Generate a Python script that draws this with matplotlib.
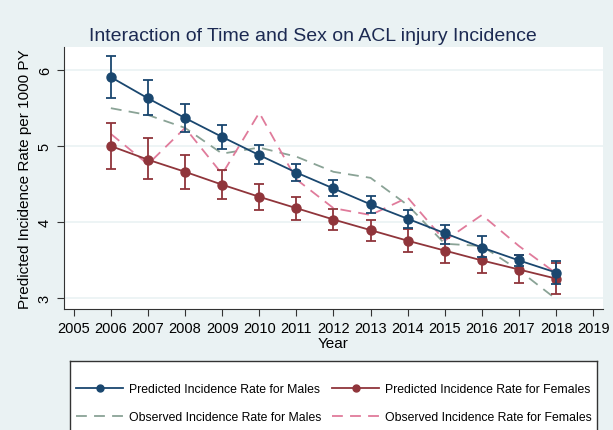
# Interaccion tiempo x sexo en la incidencia de lesiones de LCA
import numpy as np
import matplotlib.pyplot as plt
from matplotlib.lines import Line2D

plt.rcParams['font.family'] = ['Liberation Sans', 'DejaVu Sans']

years = [2006, 2007, 2008, 2009, 2010, 2011, 2012, 2013, 2014, 2015, 2016, 2017, 2018]

# Tasas predichas (con intervalo) y observadas
pred_m = [5.91, 5.63, 5.37, 5.12, 4.88, 4.65, 4.44, 4.23, 4.04, 3.85, 3.66, 3.49, 3.33]
pred_m_hi = [6.19, 5.87, 5.56, 5.28, 5.01, 4.76, 4.55, 4.34, 4.15, 3.96, 3.81, 3.56, 3.48]
pred_m_lo = [5.64, 5.41, 5.19, 4.96, 4.76, 4.54, 4.34, 4.12, 3.92, 3.71, 3.53, 3.42, 3.18]

pred_f = [5.00, 4.82, 4.66, 4.49, 4.33, 4.18, 4.03, 3.89, 3.75, 3.62, 3.49, 3.37, 3.25]
pred_f_hi = [5.31, 5.10, 4.88, 4.68, 4.50, 4.33, 4.17, 4.02, 3.90, 3.78, 3.65, 3.56, 3.46]
pred_f_lo = [4.70, 4.57, 4.43, 4.30, 4.16, 4.03, 3.89, 3.74, 3.60, 3.46, 3.32, 3.19, 3.04]

obs_m = [5.50, 5.41, 5.24, 4.90, 4.98, 4.86, 4.66, 4.58, 4.22, 3.71, 3.68, 3.36, 2.98]
obs_f = [5.16, 4.76, 5.24, 4.63, 5.44, 4.56, 4.18, 4.09, 4.32, 3.75, 4.09, 3.68, 3.32]

xticks = list(range(2005, 2020))
yticks = [3, 4, 5, 6]

c_m = '#1a476f'
c_f = '#90353b'
c_om = '#8aa396'
c_of = '#e07b9b'
bg = '#eaf2f3'

fig = plt.figure(figsize=(6.13, 4.31), dpi=100, facecolor=bg)
ax = fig.add_axes([0.104, 0.281, 0.880, 0.608])
ax.set_facecolor('white')

ax.plot(years, obs_m, '--', color=c_om, lw=1.3, dashes=(6, 4), zorder=2)
ax.plot(years, obs_f, '--', color=c_of, lw=1.3, dashes=(6, 4), zorder=2)

err_m = [np.array(pred_m) - np.array(pred_m_lo), np.array(pred_m_hi) - np.array(pred_m)]
err_f = [np.array(pred_f) - np.array(pred_f_lo), np.array(pred_f_hi) - np.array(pred_f)]
ax.errorbar(years, pred_f, yerr=err_f, color=c_f, marker='o', ms=6.5, lw=1.3,
            capsize=3.5, elinewidth=1.3, capthick=1.3, zorder=3)
ax.errorbar(years, pred_m, yerr=err_m, color=c_m, marker='o', ms=6.5, lw=1.3,
            capsize=3.5, elinewidth=1.3, capthick=1.3, zorder=4)

ax.set_xlim(2004.73, 2019.27)
ax.set_ylim(2.85, 6.31)
ax.set_xticks(xticks)
ax.set_yticks(yticks)
ax.tick_params(axis='y', labelrotation=90, labelsize=10.5, color='#333333', length=5)
ax.tick_params(axis='x', labelsize=10.5, color='#333333', length=5)
for lab in ax.get_yticklabels():
    lab.set_va('center')
ax.grid(axis='y', color=bg, lw=1.2)
ax.set_axisbelow(True)
for s in ['top', 'right']:
    ax.spines[s].set_visible(False)
for s in ['left', 'bottom']:
    ax.spines[s].set_color('#333333')

ax.set_xlabel('Year', fontsize=11, labelpad=1)
ax.set_ylabel('Predicted Incidence Rate per 1000 PY', fontsize=11, labelpad=4)
fig.text(0.51, 0.916, 'Interaction of Time and Sex on ACL injury Incidence',
         ha='center', va='center', fontsize=14, color='#1c2a52')

# caja de la leyenda (se corta en el borde inferior, como en el original)
lax = fig.add_axes([0.1142, -0.05, 0.8597, 0.210], zorder=0)
lax.set_facecolor('white')
lax.set_xticks([])
lax.set_yticks([])
for s in lax.spines.values():
    s.set_color('#333333')
    s.set_linewidth(1.0)

handles = [
    Line2D([], [], color=c_m, marker='o', ms=5, lw=1.3),
    Line2D([], [], color=c_om, ls='--', lw=1.3, dashes=(6, 4)),
    Line2D([], [], color=c_f, marker='o', ms=5, lw=1.3),
    Line2D([], [], color=c_of, ls='--', lw=1.3, dashes=(6, 4)),
]
labels = ['Predicted Incidence Rate for Males', 'Observed Incidence Rate for Males',
          'Predicted Incidence Rate for Females', 'Observed Incidence Rate for Females']
leg = fig.legend(handles, labels, ncol=2, loc='upper center',
                 bbox_to_anchor=(0.545, 0.109),
                 fontsize=8.8, frameon=False,
                 handlelength=3.8, handletextpad=0.5, columnspacing=0.9,
                 labelspacing=1.3, borderpad=0, borderaxespad=0)

fig.savefig('out.png', dpi=100, facecolor=bg)
